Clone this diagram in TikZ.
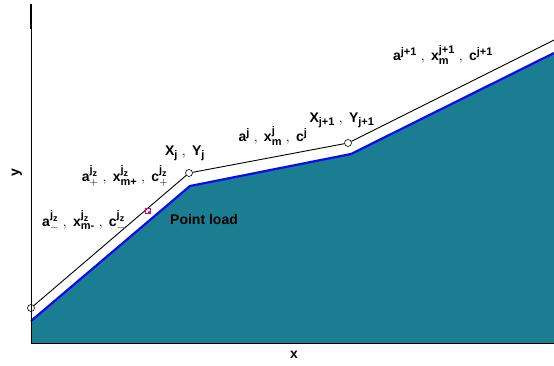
\documentclass[tikz,border=0pt]{standalone}
\usepackage{amsmath}
\usepackage{fontspec}
\setmainfont{Liberation Sans}
\DeclareMathSizes{14}{14}{11}{9}
\definecolor{soil}{RGB}{27,125,146}
\definecolor{edge}{RGB}{10,10,245}
\newcommand{\tx}[1]{\text{#1}}
\begin{document}
\begin{tikzpicture}[x=1pt,y=-1pt,
  lbl/.style={font=\bfseries\fontsize{14}{16}\selectfont, inner sep=0pt},
  pt/.style={draw=black, circle, minimum size=7pt, inner sep=0pt, line width=0.6pt},
  ln/.style={black, line width=0.9pt}]
\useasboundingbox (0,0) rectangle (554,365);
% soil
\fill[soil] (31,320) -- (190,186) -- (351,154) -- (554,53) -- (554,343) -- (31,343) -- cycle;
\draw[edge, line width=2.2pt] (31,321) -- (190,186) -- (351,154) -- (554,53);
% axes
\draw[black, line width=0.7pt] (31,4) -- (31,343) -- (554,343);
\draw[black, line width=1.6pt] (31,4) -- (31,29);
% points
\node[pt] (p0) at (31,308) {};
\node[pt] (p1) at (189,173) {};
\node[pt] (p2) at (348,143) {};
\coordinate (p3) at (554,40);
\draw[ln] (p0) -- (p1) -- (p2) -- (p3);
% point load marker
\node[draw=magenta, minimum size=5pt, inner sep=0pt, line width=0.6pt] (pl) at (148,211) {};
\fill[black] (149,212) circle (1pt);
% labels
\node[lbl, rotate=90] (ylab) at (17,173) {y};
\node[lbl] (xlab) at (294,355) {x};
\node[lbl] (l1) at (185,153) {$\tx{X}_{\tx{j}}\ ,\ \tx{Y}_{\tx{j}}$};
\node[lbl] (l2) at (342,120) {$\tx{X}_{\tx{j+1}}\ ,\ \tx{Y}_{\tx{j+1}}$};
\node[lbl] (l3) at (273,136) {$\tx{a}^{\tx{j}}\ ,\ \tx{x}^{\tx{j}}_{\tx{m}}\ ,\ \tx{c}^{\tx{j}}$};
\node[lbl] (l4) at (443,55) {$\tx{a}^{\tx{j+1}}\ ,\ \tx{x}^{\tx{j+1}}_{\tx{m}}\ ,\ \tx{c}^{\tx{j+1}}$};
\node[lbl] (l5) at (125,176) {$\tx{a}^{\tx{j}_{\tx{z}}}_{+}\ ,\ \tx{x}^{\tx{j}_{\tx{z}}}_{\tx{m+}}\ ,\ \tx{c}^{\tx{j}_{\tx{z}}}_{+}$};
\node[lbl] (l6) at (84,221) {$\tx{a}^{\tx{j}_{\tx{z}}}_{-}\ ,\ \tx{x}^{\tx{j}_{\tx{z}}}_{\tx{m-}}\ ,\ \tx{c}^{\tx{j}_{\tx{z}}}_{-}$};
\node[lbl, anchor=west] (l7) at (170,219) {Point load};
\end{tikzpicture}
\end{document}
